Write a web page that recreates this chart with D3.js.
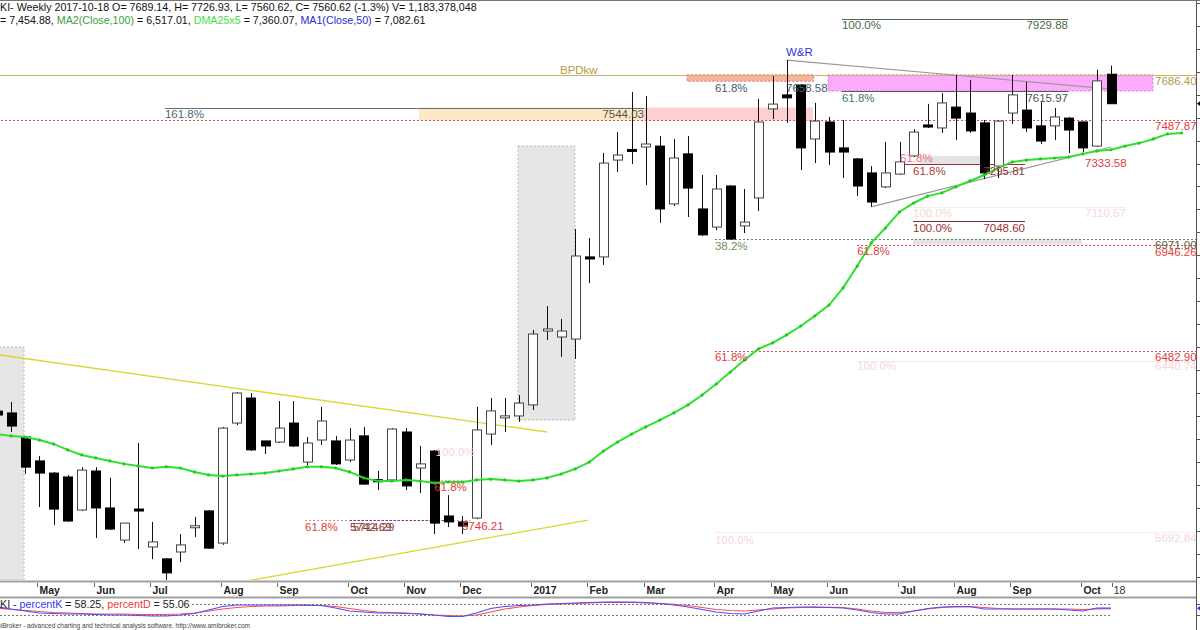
<!DOCTYPE html>
<html><head><meta charset="utf-8">
<script src="https://cdn.jsdelivr.net/npm/d3@7"></script>
<style>
body{margin:0;background:#fff;overflow:hidden}
svg{display:block}
text{font-family:"Liberation Sans",Arial,sans-serif}
</style>
</head><body>
<svg id="c" width="1200" height="630"></svg>
<script>
// ---------------- DATA ----------------
const dates = ["2016-04-15","2016-04-22","2016-04-29","2016-05-06","2016-05-13","2016-05-20","2016-05-27","2016-06-03","2016-06-10","2016-06-17",
"2016-06-24","2016-07-01","2016-07-08","2016-07-15","2016-07-22","2016-07-29","2016-08-05","2016-08-12","2016-08-19","2016-08-26",
"2016-09-02","2016-09-09","2016-09-16","2016-09-23","2016-09-30","2016-10-07","2016-10-14","2016-10-21","2016-10-28","2016-11-04",
"2016-11-11","2016-11-18","2016-11-25","2016-12-02","2016-12-09","2016-12-16","2016-12-23","2016-12-30","2017-01-06","2017-01-13",
"2017-01-20","2017-01-27","2017-02-03","2017-02-10","2017-02-17","2017-02-24","2017-03-03","2017-03-10","2017-03-17","2017-03-24",
"2017-03-31","2017-04-07","2017-04-14","2017-04-21","2017-04-28","2017-05-05","2017-05-12","2017-05-19","2017-05-26","2017-06-02",
"2017-06-09","2017-06-16","2017-06-23","2017-06-30","2017-07-07","2017-07-14","2017-07-21","2017-07-28","2017-08-04","2017-08-11",
"2017-08-18","2017-08-25","2017-09-01","2017-09-08","2017-09-15","2017-09-22","2017-09-29","2017-10-06","2017-10-13","2017-10-18"];

const openV = [6221,6213,6108,6004,5951,5934,5790,5960,5799,5659,
5794,5629,5577,5607,5716,5786,5646,6169,6278,6091,
6086,6169,5999,6095,6091,6008,6113,5921,5921,6130,
5973,6047,5764,5738,5755,6121,6195,6200,6248,6570,
6544,6535,6893,6893,7315,7359,7372,7376,7124,7342,
7102,7023,7202,7028,7150,7538,7599,7642,7407,7481,
7368,7320,7259,7198,7254,7333,7468,7455,7546,7520,
7477,7289,7520,7533,7464,7464,7498,7481,7376,7689.14];
const highV = [6239,6261,6112,6025,5956,5943,5977,5977,5930,5733,
6082,5738,5581,5685,5760,5790,6152,6304,6300,6091,
6265,6265,6108,6239,6113,6147,6152,5960,6147,6147,
6069,6052,5855,5764,6239,6278,6278,6291,6575,6679,
6623,7015,6975,7346,7437,7612,7594,7420,7407,7420,
7250,7250,7206,7189,7581,7681,7751,7647,7564,7503,
7490,7324,7289,7394,7394,7450,7560,7607,7686,7664,
7490,7490,7686,7655,7568,7542,7503,7485,7708,7726.93];
const lowV = [6182,6130,5947,5803,5725,5738,5786,5668,5703,5646,
5620,5576,5476,5563,5672,5620,5638,6160,6047,6034,
6082,6065,5986,6073,5986,5999,5899,5877,5916,5877,
5864,5685,5716,5685,5751,6073,6130,6174,6226,6531,
6457,6448,6779,6858,7263,7298,7206,7041,7115,7067,
6984,7010,6967,6997,7093,7494,7477,7272,7302,7294,
7237,7158,7111,7193,7250,7328,7455,7433,7402,7433,
7233,7237,7472,7437,7385,7402,7346,7350,7372,7560.62];
const closeV = [6204,6156,5977,5951,5794,5742,5964,5799,5707,5733,
5786,5651,5516,5638,5718,5624,6147,6300,6052,6069,
6147,6069,6082,6178,5991,6095,5903,5914,6143,5895,
5991,5733,5738,5720,6139,6222,6197,6256,6557,6579,
6570,6897,6884,7302,7337,7355,7385,7102,7324,7193,
6989,7189,6971,7045,7481,7559,7586,7368,7485,7350,
7350,7202,7132,7259,7307,7437,7459,7564,7498,7442,
7259,7485,7599,7455,7398,7503,7446,7368,7660,7560.62];

// DMA25x5 (displaced 5 bars forward: 85 points, bar 0 .. bar 84)
const dma25x5 = [6121,6113,6108,6095,6078,6052,6030,6017,6004,5991,
5982,5973,5978,5973,5956,5943,5938,5943,5947,5951,
5960,5969,5978,5978,5973,5956,5930,5916,5916,5921,
5916,5908,5912,5912,5921,5925,5921,5916,5921,5930,
5947,5969,5999,6047,6086,6121,6152,6182,6213,6248,
6291,6339,6391,6444,6492,6518,6553,6592,6636,6683,
6758,6853,6954,7019,7089,7128,7158,7172,7198,7224,
7250,7281,7307,7315,7320,7324,7328,7342,7355,7360.07,
7376,7389,7407,7429,7433];

const percentK = [64.8,53.6,42.4,31.1,28.3,25.5,25.5,22.7,19.9,19.9,
17.1,14.3,14.3,19.9,28.3,48,67.6,76.1,76.1,76.1,
76.1,76.1,76.1,73.3,59.2,42.4,36.7,31.1,31.1,28.3,
25.5,19.9,11.5,11.5,31.1,56.4,67.6,73.3,76.1,81.7,
84.5,87.3,90.1,92.9,92.9,92.9,90.1,84.5,76.1,64.8,
50.8,36.7,28.3,25.5,42.4,59.2,62,64.8,64.8,62,
59.2,48,33.9,25.5,25.5,42.4,56.4,64.8,67.6,67.6,
53.6,53.6,53.6,53.6,53.6,53.6,48,42.4,59.2,58.25];
const percentD = [59.2,50.8,45.2,39.6,33.9,31.1,28.3,25.5,25.5,25.5,
22.7,22.7,22.7,25.5,31.1,42.4,53.6,62,67.6,70.4,
70.4,73.3,73.3,73.3,67.6,56.4,45.2,36.7,33.9,31.1,
25.5,19.9,17.1,14.3,19.9,36.7,53.6,64.8,73.3,78.9,
81.7,84.5,87.3,90.1,91.2,90.1,87.3,84.5,80,73.3,
62,50.8,45.2,42.4,48,53.6,59.2,62,63.1,63.1,
62,53.6,42.4,33.9,33.9,42.4,53.6,62,64.8,66.5,
62,56.4,53.6,53.6,53.6,53.6,53.6,50.8,53.6,55.06];

const priceTicks = [5500,5600,5700,5800,5900,6000,6100,6200,6300,6400,6500,6600,6700,6800,6900,7000,7100,7200,7300,7400,7500,7600,7700,7800,7900,8000];
const monthNames = ["Jan","Feb","Mar","Apr","May","Jun","Jul","Aug","Sep","Oct","Nov","Dec"];
const lastDayLabel = "'18";

// ---------------- SCALES ----------------
const svg = d3.select("#c");
const AX = 1196, PB = 580;
const x = d3.scaleLinear().domain([0, 79]).range([-2.9, 1111]);
const y = d3.scaleLinear().domain([5485, 8012.6]).range([PB, 0]);
const ys = d3.scaleLinear().domain([0, 100]).range([618.54, 600.74]);
const FONT = 11.5;

svg.append("rect").attr("width",1200).attr("height",630).attr("fill","#fff");
svg.append("defs").append("clipPath").attr("id","pc").append("rect")
  .attr("x",0).attr("y",0).attr("width",AX).attr("height",PB);
const g = svg.append("g").attr("clip-path","url(#pc)");

const px = v => Math.round(y(v)) + 0.5;
function hline(v, i1, i2, color, dash, w) {
  g.append("line").attr("x1", x(i1)).attr("x2", x(i2)).attr("y1", px(v)).attr("y2", px(v))
    .attr("stroke", color).attr("stroke-width", w || 1).attr("stroke-dasharray", dash || null);
}
function box(i1, i2, v1, v2, fill, stroke) {
  g.append("rect").attr("x", x(i1)).attr("width", x(i2) - x(i1))
    .attr("y", y(Math.max(v1, v2))).attr("height", Math.abs(y(v1) - y(v2)))
    .attr("fill", fill).attr("stroke", stroke || "none").attr("stroke-dasharray", stroke ? "2,2" : null);
}
function label(gg, xp, yp, s, color, anchor, size, weight) {
  gg.append("text").attr("x", xp).attr("y", yp).attr("fill", color)
    .attr("font-size", (size || FONT) + "px").attr("text-anchor", anchor || "start")
    .attr("font-weight", weight || "normal").text(s);
}
function tline(a, b, color, w) {
  g.append("line").attr("x1", x(a[0])).attr("y1", y(a[1])).attr("x2", x(b[0])).attr("y2", y(b[1]))
    .attr("stroke", color).attr("stroke-width", w || 1);
}

// ---------------- BACKGROUND ZONES ----------------
box(-1, 1.91, 6500.4, 5485, "#e6e6e6", "#b8b8b8");
box(36.94, 40.98, 7376.3, 6182.2, "#e6e6e6", "#b8b8b8");
box(29.92, 45.88, 7487.87, 7544.03, "#fde8c6");
box(45.88, 57.86, 7487.87, 7544.03, "#fcd0d0");
box(48.93, 57.9, 7658.58, 7686.4, "#f8b49c", "#e07070");
box(58.93, 81.98, 7615.97, 7686.4, "#fcaafc", "#e07ae0");
g.append("line").attr("x1", x(69.07)).attr("x2", x(69.07)).attr("y1", y(7686.4)).attr("y2", y(7615.97))
  .attr("stroke", "#e07ae0").attr("stroke-dasharray", "2,2");
box(65.45, 69.71, 7295.81, 7333.58, "#e4e4e4");
box(64.96, 76.94, 6946.26, 6971.0, "#e4e4e4");

// ---------------- LEVEL LINES ----------------
hline(7686.40, 0, 85.1, "#c9b46a");
hline(7487.87, 0, 85.1, "#e04848", "2,2");
hline(7544.03, 11.9, 45.88, "#66707a");
hline(7929.88, 59.92, 75.95, "#4e6a50");
hline(7615.97, 59.92, 75.95, "#505a58");
hline(6971.00, 50.91, 85.1, "#4f8f4f", "2,2");
hline(6946.26, 61.0, 85.1, "#e04848", "2,2");
hline(6482.90, 50.91, 85.1, "#e04848", "2,2");
hline(6440.74, 61.0, 85.1, "#fbe6e6");
hline(5692.84, 50.91, 85.1, "#fbeaea");
hline(7295.81, 64.04, 72.9, "#9b3030");
hline(7048.60, 64.96, 72.9, "#8b2a2a");
hline(7110.57, 64.96, 80.0, "#fbecec");
hline(5746.21, 21.84, 33.54, "#f08080", "2,2");
hline(5746.21, 25.03, 31.77, "#7040a0", "2,2");
hline(5920.8, 31.2, 32.97, "#f0a0a0", "2,2");

// ---------------- TREND LINES ----------------
tline([0.21, 6465.5], [39.0, 6130], "#d8d830", 1.3);
tline([16.52, 5467.5], [41.9, 5746.4], "#d8d830", 1.3);
tline([56.0, 7751], [78.9, 7625], "#9a9a9a", 1.2);
tline([61.98, 7111], [79.0, 7372], "#9a9a9a", 1.2);

// ---------------- CANDLES ----------------
const bars = dates.map((d, i) => ({i, o: openV[i], h: highV[i], l: lowV[i], c: closeV[i]}));
const bw = 9;
const cg = g.append("g");
cg.selectAll("line.w").data(bars).join("line")
  .attr("x1", d => Math.round(x(d.i)) + 0.5).attr("x2", d => Math.round(x(d.i)) + 0.5)
  .attr("y1", d => y(d.h)).attr("y2", d => y(d.l)).attr("stroke", "#111").attr("stroke-width", 1);
cg.selectAll("rect.b").data(bars).join("rect")
  .attr("x", d => Math.round(x(d.i) - bw / 2) + 0.5).attr("width", bw)
  .attr("y", d => { const t = y(Math.max(d.o, d.c)); const hh = Math.abs(y(d.o) - y(d.c)); return hh < 2 ? (t + y(Math.min(d.o, d.c))) / 2 - 1 : t; })
  .attr("height", d => Math.max(2, Math.abs(y(d.o) - y(d.c))))
  .attr("fill", d => d.c >= d.o ? "#fff" : "#000")
  .attr("stroke", d => d.c >= d.o ? "#444" : "#000").attr("stroke-width", 1);

// ---------------- DMA LINE ----------------
const dmaPts = dma25x5.map((v, i) => [x(i), y(v)]);
g.append("path").attr("d", d3.line()(dmaPts)).attr("fill", "none").attr("stroke", "#2fe02f").attr("stroke-width", 2);
g.selectAll("circle.d").data(dmaPts).join("circle").attr("cx", d => d[0]).attr("cy", d => d[1]).attr("r", 1.6).attr("fill", "#22c822");

// ---------------- ANNOTATION LABELS ----------------
const lg = g.append("g");
const redT = "#e23c3c", faint = "#f6d8d8", darkRed = "#9a3434";
label(lg, x(39.92), y(7686.4) - 0.5, "BPDkw", "#b89a3c");
label(lg, x(55.95), y(7751) - 4, "W&R", "#3535dd");
label(lg, 1155, y(7686.4) + 10.5, "7686.40", "#b39a55");
label(lg, x(11.9), y(7544.03) + 10.5, "161.8%", "#4a6a7a");
label(lg, x(45.88), y(7544.03) + 10.5, "7544.03", "#555", "end");
label(lg, x(59.92), y(7929.88) + 10.5, "100.0%", "#4a6a4a");
label(lg, x(75.95), y(7929.88) + 10.5, "7929.88", "#4a6a4a", "end");
label(lg, x(50.91), y(7658.58) + 11, "61.8%", "#3d6070");
label(lg, x(55.95), y(7658.58) + 11, "7658.58", "#3d6070");
label(lg, x(59.92), y(7615.97) + 11, "61.8%", "#3f7a5a");
label(lg, x(75.95), y(7615.97) + 11, "7615.97", "#4a5a4a", "end");
label(lg, 1155, y(7487.87) + 10, "7487.87", redT);
label(lg, x(77.16), y(7333.58) + 11, "7333.58", redT);
label(lg, x(64.04), y(7295.81) - 2, "61.8%", "#e77a84");
label(lg, x(64.96), y(7295.81) + 11, "61.8%", "#b03a3a");
label(lg, x(72.9), y(7295.81) + 11, "7295.81", darkRed, "end");
label(lg, x(64.96), y(7110.57) + 10, "100.0%", faint);
label(lg, x(77.16), y(7110.57) + 10, "7110.57", faint);
label(lg, x(64.96), y(7048.60) + 10.5, "100.0%", darkRed);
label(lg, x(72.9), y(7048.60) + 10.5, "7048.60", darkRed, "end");
label(lg, x(50.91), y(6971.0) + 11, "38.2%", "#6f8f5a");
label(lg, 1155, y(6971.0) + 10, "6971.00", "#4f5f45");
label(lg, x(61.0), y(6946.26) + 10.5, "61.8%", redT);
label(lg, 1155, y(6946.26) + 11, "6946.26", redT);
label(lg, x(50.91), y(6482.90) + 10, "61.8%", redT);
label(lg, 1155, y(6482.90) + 9.5, "6482.90", redT);
label(lg, x(61.0), y(6440.74) + 9.5, "100.0%", faint);
label(lg, 1155, y(6440.74) + 9.5, "6440.74", faint);
label(lg, x(50.91), y(5692.84) + 12, "100.0%", faint);
label(lg, 1155, y(5692.84) + 10, "5692.84", faint);
label(lg, x(21.84), y(5746.21) + 11, "61.8%", redT);
label(lg, x(25.03), y(5746.21) + 11, "5742.69", darkRed);
label(lg, x(25.23), y(5746.21) + 11, "5714.29", "#8a4a4a");
label(lg, x(32.97), y(5746.21) + 10, "5746.21", redT);
label(lg, x(31.0), y(5920.8) + 11, "61.8%", redT);
label(lg, x(31.1), y(6047) + 5, "100.0%", faint);

// ---------------- RIGHT AXIS ----------------
svg.append("line").attr("x1", AX + 0.5).attr("x2", AX + 0.5).attr("y1", 0).attr("y2", 630).attr("stroke", "#555");
svg.selectAll("line.pt").data(priceTicks).join("line")
  .attr("x1", AX).attr("x2", 1200).attr("y1", d => px(d)).attr("y2", d => px(d)).attr("stroke", "#555");
svg.append("path").attr("d", `M${AX + 1},${y(7560.62)} l5,-4 v8 z`).attr("fill", "#000");

// ---------------- DATE AXIS ----------------
svg.append("line").attr("x1", 0).attr("x2", AX).attr("y1", 581.5).attr("y2", 581.5).attr("stroke", "#a0a0a0").attr("stroke-width", 2);
svg.append("line").attr("x1", 0).attr("x2", AX).attr("y1", 597.5).attr("y2", 597.5).attr("stroke", "#a0a0a0").attr("stroke-width", 2);
const parse = d3.timeParse("%Y-%m-%d");
const monthStarts = [];
dates.forEach((d, i) => {
  if (i === 0) return;
  const a = parse(dates[i - 1]), b = parse(d);
  if (a.getMonth() !== b.getMonth()) monthStarts.push({i, lab: b.getMonth() === 0 ? String(b.getFullYear()) : monthNames[b.getMonth()]});
});
const ag = svg.append("g");
monthStarts.forEach(m => {
  const xx = Math.round(x(m.i)) - 1.5;
  ag.append("line").attr("x1", xx).attr("x2", xx).attr("y1", 583).attr("y2", 587).attr("stroke", "#666");
  label(ag, xx + 2, 594, m.lab, "#222", "start", 10.4, "bold");
});
{
  const xx = Math.round(x(79)) + 1.5;
  ag.append("line").attr("x1", xx).attr("x2", xx).attr("y1", 583).attr("y2", 587).attr("stroke", "#666");
  label(ag, xx + 1, 594, lastDayLabel.replace("'", ""), "#333", "start", 10.8);
}

// ---------------- STOCHASTIC PANE ----------------
const sg = svg.append("g");
sg.append("line").attr("x1", 192).attr("x2", x(79)).attr("y1", 604.5).attr("y2", 604.5).attr("stroke", "#777").attr("stroke-dasharray", "2,2");
sg.append("line").attr("x1", 0).attr("x2", x(79)).attr("y1", 615.5).attr("y2", 615.5).attr("stroke", "#777").attr("stroke-dasharray", "2,2");
sg.append("path").attr("d", d3.line()(percentD.map((v, i) => [x(i), ys(v)]))).attr("fill", "none").attr("stroke", "#ff4d4d").attr("stroke-width", 1.2);
sg.append("path").attr("d", d3.line()(percentK.map((v, i) => [x(i), ys(v)]))).attr("fill", "none").attr("stroke", "#4d4dff").attr("stroke-width", 1.2);
const st = sg.append("text").attr("x", 0).attr("y", 608).attr("font-size", "10.7px");
st.append("tspan").attr("fill", "#222").text("KI - ");
st.append("tspan").attr("fill", "#3a3aee").text("percentK");
st.append("tspan").attr("fill", "#222").text(" = 58.25, ");
st.append("tspan").attr("fill", "#ee3a3a").text("percentD");
st.append("tspan").attr("fill", "#222").text(" = 55.06");
sg.selectAll("line.st").data([604.5, 615.5]).join("line").attr("x1", AX).attr("x2", 1200).attr("y1", d => d).attr("y2", d => d).attr("stroke", "#555");
sg.append("path").attr("d", `M${AX + 1},${ys(58.25)} l4,-3 v6 z`).attr("fill", "#3030ff");
label(svg, -9, 628, "AmiBroker - advanced charting and technical analysis software. http://www.amibroker.com", "#444", "start", 6.5);

// ---------------- HEADER ----------------
const h1 = svg.append("text").attr("x", 0).attr("y", 10.5).attr("font-size", "10.7px").attr("fill", "#111");
h1.text("KI- Weekly 2017-10-18 O= 7689.14, H= 7726.93, L= 7560.62, C= 7560.62 (-1.3%) V= 1,183,378,048");
const h2 = svg.append("text").attr("x", 0).attr("y", 24).attr("font-size", "10.7px");
[["= 7,454.88, ", "#111"], ["MA2(Close,100)", "#3aa040"], [" = 6,517.01, ", "#111"], ["DMA25x5", "#45e045"],
 [" = 7,360.07, ", "#111"], ["MA1(Close,50)", "#2a2ad0"], [" = 7,082.61", "#111"]]
  .forEach(p => h2.append("tspan").attr("fill", p[1]).text(p[0]));
svg.append("line").attr("x1", 0).attr("x2", 1200).attr("y1", 0.5).attr("y2", 0.5).attr("stroke", "#777");
</script>
</body></html>
